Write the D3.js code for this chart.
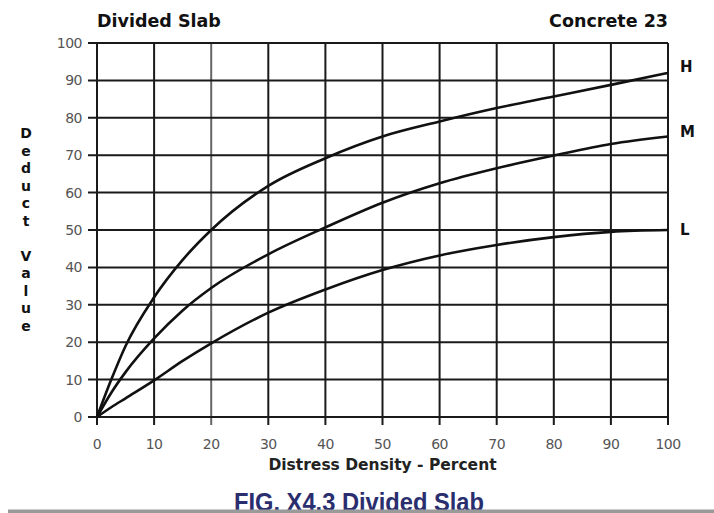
<!DOCTYPE html>
<html>
<head>
<meta charset="utf-8">
<script src="https://cdn.jsdelivr.net/npm/d3@7"></script>
<style>
  body { margin: 0; background: #fff; }
  svg { display: block; }
</style>
</head>
<body>
<svg id="chart" width="714" height="513"></svg>
<script>
(function () {
    'use strict';

    // distress density (%) where curve values were read
    const density = [0, 2.5, 5, 10, 15, 20, 30, 40, 50, 60, 70, 80, 90, 100];
    const highValues = [0, 10, 19, 32, 42, 50, 61.8, 69.2, 75, 79, 82.6, 85.7, 88.8, 92];
    const medValues = [0, 6.5, 12, 21, 28.5, 34.5, 43.5, 50.7, 57.3, 62.5, 66.5, 69.9, 73, 75];
    const lowValues = [0, 2.6, 5, 9.8, 15, 19.7, 27.9, 34.1, 39.3, 43.2, 46, 48.1, 49.5, 50];
    const seriesNames = ["H", "M", "L"];
    const xTicks = [0, 10, 20, 30, 40, 50, 60, 70, 80, 90, 100];
    const yTicks = [0, 10, 20, 30, 40, 50, 60, 70, 80, 90, 100];
    const yLabelLetters = ["D", "e", "d", "u", "c", "t", "", "V", "a", "l", "u", "e"];

    const series = [highValues, medValues, lowValues].map((vals, i) => ({
        name: seriesNames[i],
        points: density.map((d, j) => [d, vals[j]])
    }));
    const labelShift = {H: -6, M: -5, L: 0};

    const margin = {top: 43, right: 46, bottom: 96, left: 97};
    const width = 714, height = 513;

    const x = d3.scaleLinear().domain([0, 100]).range([margin.left, width - margin.right]);
    const y = d3.scaleLinear().domain([0, 100]).range([height - margin.bottom, margin.top]);

    const svg = d3.select("#chart");
    const font = "DejaVu Sans, Verdana, sans-serif";

    // grid
    svg.append("g")
        .selectAll("line")
        .data(xTicks)
        .join("line")
        .attr("x1", d => x(d)).attr("x2", d => x(d))
        .attr("y1", y(100)).attr("y2", y(0) + 8)
        .attr("stroke", d => d === 20 ? "#666" : "#1a1a1a")
        .attr("stroke-width", 2);

    svg.append("g")
        .selectAll("line")
        .data(yTicks)
        .join("line")
        .attr("x1", x(0) - 9).attr("x2", x(100))
        .attr("y1", d => y(d)).attr("y2", d => y(d))
        .attr("stroke", "#1a1a1a")
        .attr("stroke-width", 2);

    // tick labels
    svg.append("g")
        .selectAll("text")
        .data(yTicks)
        .join("text")
        .attr("x", x(0) - 15)
        .attr("y", d => y(d))
        .attr("dy", "0.36em")
        .attr("text-anchor", "end")
        .style("font", `14px ${font}`)
        .style("letter-spacing", "-0.5px")
        .attr("fill", "#555")
        .text(d => d);

    svg.append("g")
        .selectAll("text")
        .data(xTicks)
        .join("text")
        .attr("x", d => x(d))
        .attr("y", y(0) + 32)
        .attr("text-anchor", "middle")
        .style("font", `14px ${font}`)
        .style("letter-spacing", "-0.5px")
        .attr("fill", "#555")
        .text(d => d);

    // curves
    const line = d3.line()
        .x(d => x(d[0]))
        .y(d => y(d[1]))
        .curve(d3.curveMonotoneX);

    svg.append("g")
        .selectAll("path")
        .data(series)
        .join("path")
        .attr("d", d => line(d.points))
        .attr("fill", "none")
        .attr("stroke", "#111")
        .attr("stroke-width", 2.6);

    svg.append("g")
        .selectAll("text")
        .data(series)
        .join("text")
        .attr("x", x(100) + 12)
        .attr("y", d => y(d.points[d.points.length - 1][1]) + labelShift[d.name])
        .attr("dy", "0.36em")
        .style("font", `bold 15px ${font}`)
        .attr("fill", "#111")
        .text(d => d.name);

    // titles
    svg.append("text")
        .attr("x", x(0))
        .attr("y", 27)
        .style("font", `bold 17.5px ${font}`)
        .attr("fill", "#111")
        .text("Divided Slab");

    svg.append("text")
        .attr("x", x(100))
        .attr("y", 27)
        .attr("text-anchor", "end")
        .style("font", `bold 17.5px ${font}`)
        .attr("fill", "#111")
        .text("Concrete 23");

    svg.append("text")
        .attr("x", (x(0) + x(100)) / 2)
        .attr("y", 470)
        .attr("text-anchor", "middle")
        .style("font", `bold 15.5px ${font}`)
        .attr("fill", "#222")
        .text("Distress Density - Percent");

    svg.append("g")
        .selectAll("text")
        .data(yLabelLetters)
        .join("text")
        .attr("x", 26)
        .attr("y", (d, i) => 138 + i * 17.5)
        .attr("text-anchor", "middle")
        .style("font", `bold 14px ${font}`)
        .attr("fill", "#111")
        .text(d => d);

    // caption and page edge (the page edge clips the caption, as in the scan)
    svg.append("text")
        .attr("x", 359)
        .attr("y", 511)
        .attr("text-anchor", "middle")
        .attr("textLength", 250)
        .attr("lengthAdjust", "spacingAndGlyphs")
        .style("font", "600 25px 'Liberation Sans Narrow', 'Liberation Sans', Arial, sans-serif")
        .attr("fill", "#2a2e6e")
        .text("FIG. X4.3 Divided Slab");

    svg.append("rect")
        .attr("x", 8).attr("y", 509.5)
        .attr("width", width - 8).attr("height", 3.5)
        .attr("fill", "#9a9a9a");
}());
</script>
</body>
</html>
